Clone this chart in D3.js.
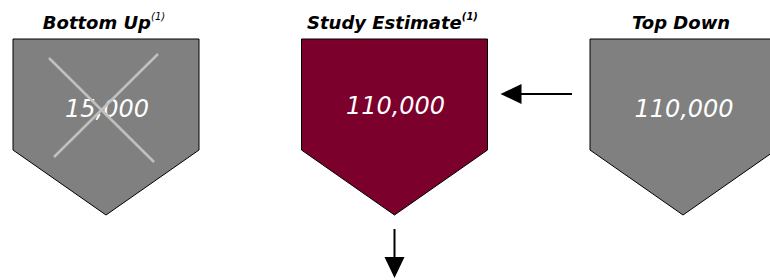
<!DOCTYPE html>
<html><head><meta charset="utf-8">
<script src="https://cdn.jsdelivr.net/npm/d3@7"></script>
<style>body{margin:0;background:#fff}svg{display:block}</style>
</head><body>
<script>
const categories = ["Bottom Up", "Study Estimate", "Top Down"];
const footnotes = ["(1)", "(1)", ""];
const values = [15000, 110000, 110000];
const crossed = [true, false, false];
const fills = ["#808080", "#7b002b", "#808080"];

const W = 770, H = 280;
const svg = d3.select("body").append("svg").attr("width", W).attr("height", H);

const x = d3.scalePoint().domain(categories).range([106, 683]);
const halfW = 93, topY = 39, shoulderY = 150, tipY = 215;
const fmt = d3.format(",");

const g = svg.selectAll("g.card").data(categories).join("g").attr("class", "card");

g.append("path")
  .attr("d", d => {
    const cx = x(d);
    return `M${cx - halfW},${topY}H${cx + halfW}V${shoulderY}L${cx},${tipY}L${cx - halfW},${shoulderY}Z`;
  })
  .attr("fill", (d, i) => fills[i])
  .attr("stroke", "#000").attr("stroke-width", 1);

const t = g.append("text")
  .attr("x", d => x(d) - 2).attr("y", 29)
  .attr("text-anchor", "middle")
  .attr("font-family", "DejaVu Sans").attr("font-style", "italic").attr("font-weight", "bold")
  .attr("font-size", 18).attr("fill", "#000");
t.append("tspan").text(d => d);
t.append("tspan")
  .attr("dy", -9).attr("font-size", 10)
  .attr("font-weight", (d, i) => i === 1 ? "bold" : "normal")
  .text((d, i) => footnotes[i]);

g.append("text")
  .attr("x", d => x(d) + 1).attr("y", (d, i) => i === 1 ? 114 : 117)
  .attr("text-anchor", "middle")
  .attr("font-family", "DejaVu Sans").attr("font-style", "italic")
  .attr("font-size", 24).attr("fill", "#fff")
  .text((d, i) => fmt(values[i]));

// cross-out
g.filter((d, i) => crossed[i]).each(function(d) {
  const cx = x(d), s = d3.select(this);
  s.append("line").attr("x1", cx - 57).attr("y1", 58).attr("x2", cx + 48).attr("y2", 162)
    .attr("stroke", "#c0c0c0").attr("stroke-width", 2.5);
  s.append("line").attr("x1", cx + 52).attr("y1", 54).attr("x2", cx - 52).attr("y2", 157)
    .attr("stroke", "#c0c0c0").attr("stroke-width", 2.5);
});

// arrows
const defs = svg.append("defs");
const cxMid = x(categories[1]);
// horizontal arrow: from Top Down to Study Estimate
svg.append("line").attr("x1", x(categories[2]) - 111).attr("y1", 94).attr("x2", cxMid + 125).attr("y2", 94)
  .attr("stroke", "#000").attr("stroke-width", 2);
svg.append("path")
  .attr("d", `M${cxMid + 106},94L${cxMid + 127},84L${cxMid + 127},104Z`).attr("fill", "#000");
// vertical arrow below Study Estimate
svg.append("line").attr("x1", cxMid).attr("y1", 229).attr("x2", cxMid).attr("y2", 258)
  .attr("stroke", "#000").attr("stroke-width", 2);
svg.append("path")
  .attr("d", `M${cxMid},278L${cxMid - 10},257L${cxMid + 10},257Z`).attr("fill", "#000");
</script>
</body></html>
